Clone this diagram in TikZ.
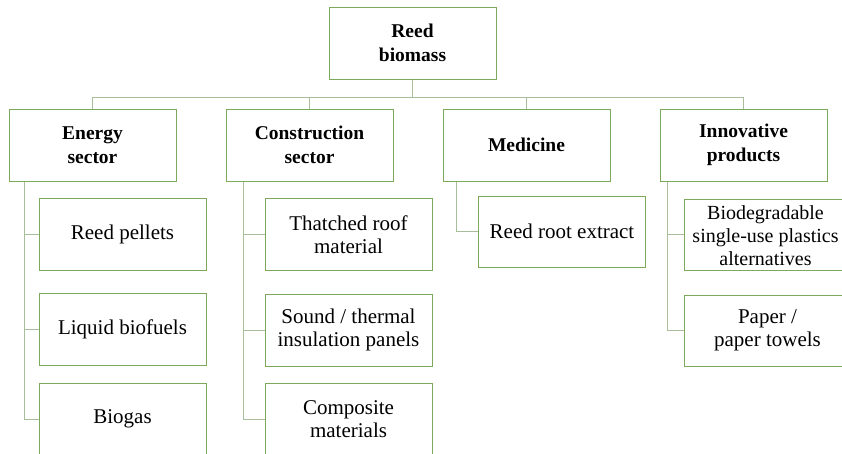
\documentclass[tikz,border=0pt]{standalone}
\usepackage{fontspec}
\setmainfont{Liberation Serif}
\definecolor{boxgreen}{RGB}{125,170,90}
\definecolor{linkgreen}{RGB}{168,190,155}
\begin{document}
\begin{tikzpicture}[x=1pt,y=-1pt,
  box/.style={draw=boxgreen,line width=1pt,fill=white,rectangle,inner sep=0pt,
    minimum width=167pt,minimum height=72pt,align=center},
  headbox/.style={box,font=\fontsize{19.5}{24.5}\selectfont\bfseries},
  itembox/.style={box,font=\fontsize{21}{23.5}\selectfont},
  link/.style={draw=linkgreen,line width=0.9pt}]
\useasboundingbox (0,0) rectangle (842,453);
\clip (0,0) rectangle (842,453);

% top level
\node[headbox] (root) at (412.5,43) {Reed\\biomass};

% sectors
\node[headbox] (energy) at (92.5,145) {Energy\\sector};
\node[headbox] (constr) at (309.5,145) {Construction\\sector};
\node[headbox] (med) at (526.5,145) {Medicine};
\node[headbox] (innov) at (743.5,145) {Innovative\\products};

% energy sector items
\node[itembox] (pellets) at (122.5,234.5) {Reed pellets};
\node[itembox] (liquid) at (122.5,329) {Liquid biofuels};
\node[itembox] (biogas) at (122.5,419) {Biogas};

% construction sector items
\node[itembox] (thatch) at (348.5,234.5) {Thatched roof\\material};
\node[itembox] (sound) at (348.5,330) {Sound / thermal\\insulation panels};
\node[itembox] (compos) at (348.5,419) {Composite\\materials};

% medicine item
\node[itembox,minimum height=71pt] (root extract) at (562,231.5) {Reed root extract};

% innovative products items
\node[itembox,minimum height=71pt] (biodeg) at (767.5,234.5) {};
\node[font=\fontsize{20}{23}\selectfont,align=center,inner sep=0pt] (biodeg text)
  at (765.5,236) {Biodegradable\\single-use plastics\\alternatives};
\node[itembox,minimum height=71pt] (paper) at (767.5,330.5) {Paper /\\paper towels};

% root to sectors
\foreach \s in {energy,constr,med,innov}
  \draw[link] (root.south) -- ++(0,18) -| (\s.north);

% sectors to items
\draw[link] ([xshift=16pt]energy.south west) |- (pellets.west);
\draw[link] ([xshift=16pt]energy.south west) |- (liquid.west);
\draw[link] ([xshift=16pt]energy.south west) |- (biogas.west);
\draw[link] ([xshift=17.5pt]constr.south west) |- (thatch.west);
\draw[link] ([xshift=17.5pt]constr.south west) |- (sound.west);
\draw[link] ([xshift=17.5pt]constr.south west) |- (compos.west);
\draw[link] ([xshift=14pt]med.south west) |- (root extract.west);
\draw[link] ([xshift=8pt]innov.south west) |- (biodeg.west);
\draw[link] ([xshift=8pt]innov.south west) |- (paper.west);
\end{tikzpicture}
\end{document}
